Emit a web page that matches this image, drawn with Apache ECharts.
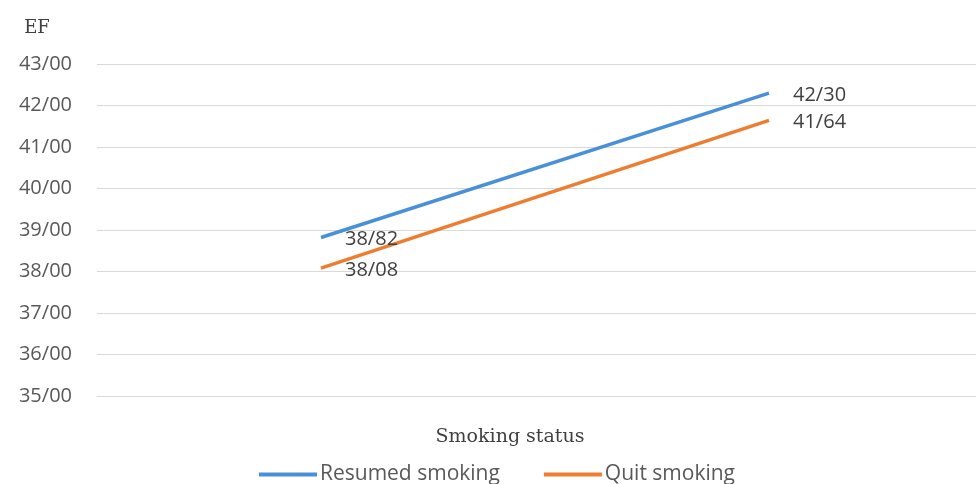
<!DOCTYPE html>
<html><head><meta charset="utf-8">
<script src="https://cdn.jsdelivr.net/npm/echarts@6/dist/echarts.min.js"></script>
<style>html,body{margin:0;padding:0;background:#fff}#c{width:976px;height:484px}</style>
</head><body><div id="c"></div>
<script>
const categories = ['Before', 'After'];
const resumed = [38.82, 42.30];
const quit = [38.08, 41.64];
const seriesNames = ['Resumed smoking', 'Quit smoking'];
const yMin = 35, yMax = 43, yStep = 1;

const fmt = v => v.toFixed(2).replace('.', '/');
const chart = echarts.init(document.getElementById('c'));
const lbl = {show: true, position: 'right', distance: 24, offset: [0, 2], color: '#404040', fontSize: 20, fontFamily: 'Open Sans', formatter: p => fmt(p.value)};
chart.setOption({
  animation: false,
  grid: {left: 97, width: 896, top: 64, bottom: 88, outerBoundsMode: 'none', containLabel: false},
  xAxis: {
    type: 'category', data: categories, boundaryGap: true,
    name: 'Smoking status', nameLocation: 'middle', nameGap: 32,
    nameTextStyle: {fontFamily: 'DejaVu Serif', fontSize: 19, color: '#404040', padding: [0, 70, 0, 0]},
    axisLine: {lineStyle: {color: '#d9d9d9'}}, axisTick: {show: false}, axisLabel: {show: false}
  },
  yAxis: {
    type: 'value', min: yMin, max: yMax, interval: yStep,
    name: 'EF', nameLocation: 'end', nameGap: 27,
    nameTextStyle: {fontFamily: 'DejaVu Serif', fontSize: 18, color: '#404040', align: 'center', padding: [0, 120, 0, 0]},
    axisLine: {show: false}, axisTick: {show: false},
    axisLabel: {formatter: v => fmt(v), color: '#595959', fontSize: 20, fontFamily: 'Open Sans', margin: 25},
    splitLine: {lineStyle: {color: '#d9d9d9'}}
  },
  legend: {
    top: 459, left: 254, itemGap: 44, itemWidth: 58, itemHeight: 4, itemStyle: {borderWidth: 0},
    textStyle: {color: '#595959', fontSize: 21, fontFamily: 'Open Sans', padding: [0, 0, 0, -2]},
    icon: 'rect', data: seriesNames
  },
  series: [
    {name: seriesNames[0], type: 'line', data: resumed, symbol: 'circle', symbolSize: 0, showSymbol: true, lineStyle: {width: 3.5, color: '#4a90d9'}, itemStyle: {color: '#4a90d9'}, label: lbl},
    {name: seriesNames[1], type: 'line', data: quit, symbol: 'circle', symbolSize: 0, showSymbol: true, lineStyle: {width: 3.5, color: '#ed7d31'}, itemStyle: {color: '#ed7d31'}, label: lbl}
  ]
});
</script></body></html>
